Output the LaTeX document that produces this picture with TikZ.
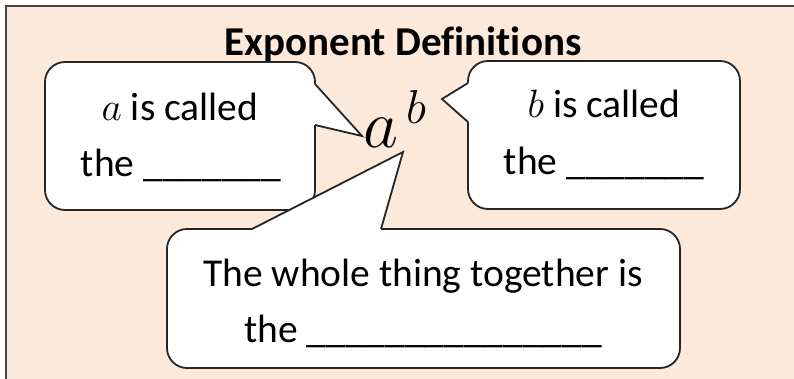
\RequirePackage{fix-cm}
\documentclass[tikz,border=0pt]{standalone}
\usepackage{fontspec}
\setmainfont{Carlito}[Ligatures=NoCommon]
\definecolor{peach}{HTML}{FDE9D9}
\definecolor{edge}{HTML}{262626}
\begin{document}
\begin{tikzpicture}[x=1pt,y=-1pt,
  bubble/.style={fill=white, draw=edge, line width=1.8pt, rounded corners=20pt, inner sep=0pt},
  ptrfill/.style={fill=white},
  ptr/.style={draw=edge, line width=1.8pt, line join=miter},
  txt/.style={font=\fontsize{39.5}{41}\selectfont, inner sep=0pt, anchor=base},
  ttl/.style={font=\bfseries\fontsize{41}{43}\selectfont, inner sep=0pt, anchor=base}]
\useasboundingbox (0,0) rectangle (794,379);
\fill[peach] (6,6) rectangle (794,379);
\draw[line width=2pt, edge!85] (6,379) -- (6,6) -- (794,6);

\node[ttl] (title) at (403,56) {Exponent Definitions};

% bubble 1
\node[bubble, minimum width=270pt, minimum height=148pt] (b1) at (180,136) {};
\coordinate (p1a) at (315,84);
\coordinate (p1b) at (315,125);
\coordinate (t1) at (362,136);
\fill[ptrfill] (310,84) -- (p1a) -- (t1) -- (p1b) -- (310,125) -- cycle;
\draw[ptr] (p1a) -- (t1) -- (p1b);

% bubble 2
\node[bubble, minimum width=272pt, minimum height=148pt] (b2) at (604,135) {};
\coordinate (p2a) at (468,83);
\coordinate (p2b) at (468,122);
\coordinate (t2) at (442,99);
\fill[ptrfill] (473,83) -- (p2a) -- (t2) -- (p2b) -- (473,122) -- cycle;
\draw[ptr] (p2a) -- (t2) -- (p2b);

% bubble 3
\node[bubble, minimum width=513pt, minimum height=139pt] (b3) at (423.5,298.5) {};
\coordinate (p3a) at (252,229);
\coordinate (p3b) at (381,229);
\coordinate (t3) at (403,152);
\fill[ptrfill] (252,234) -- (p3a) -- (t3) -- (p3b) -- (381,234) -- cycle;
\draw[ptr] (p3a) -- (t3) -- (p3b);

% texts
\node[txt] (a1) at (180,121) {$a$ is called};
\node[txt] (a2) at (181,177) {the \_\_\_\_\_\_\_};
\node[txt] (c1) at (604,118) {$b$ is called};
\node[txt] (c2) at (604,175) {the \_\_\_\_\_\_\_};
\node[txt] (d1) at (423,286) {The whole thing together is};
\node[txt] (d2) at (423,342) {the \_\_\_\_\_\_\_\_\_\_\_\_\_\_\_};

\node[inner sep=0pt, anchor=base west, font=\fontsize{68}{70}\selectfont] (ab) at (363,148) {$a^{\,b}$};
\end{tikzpicture}
\end{document}
